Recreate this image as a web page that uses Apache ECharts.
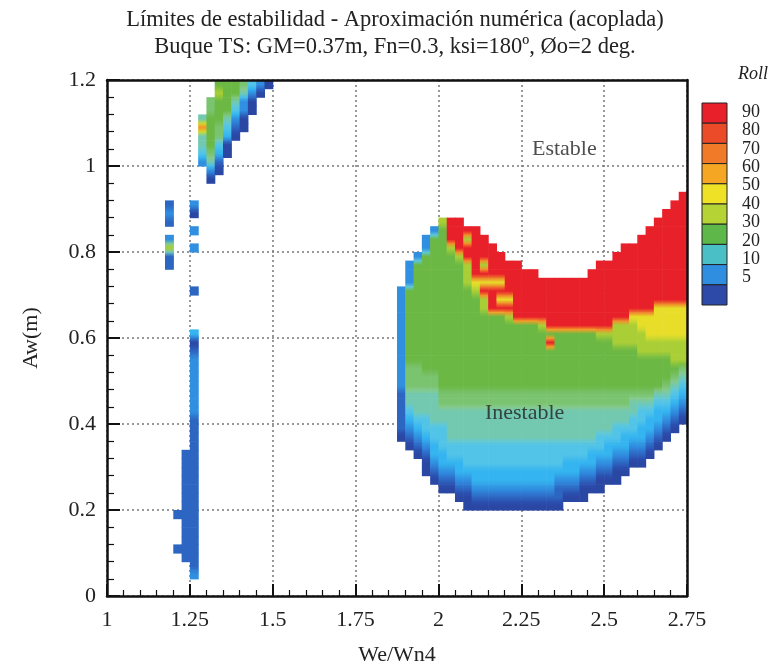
<!DOCTYPE html>
<html>
<head>
<meta charset="utf-8">
<title>Límites de estabilidad</title>
<script src="https://cdn.jsdelivr.net/npm/echarts@6/dist/echarts.min.js"></script>
<style>
  html, body { margin: 0; padding: 0; background: #fff; }
  #chart { width: 770px; height: 667px; }
</style>
</head>
<body>
<div id="chart"></div>
<script>
// cell grid of the roll map: columns in We/Wn4, rows in Aw (top row first)
const weStart = 1
const weStep = 0.025
const awTop = 1.2
const awStep = 0.02

// roll value (deg) of each colour code
const codeRoll = { '1': 3, '2': 7, '3': 11, '4': 15, '5': 19, '6': 23, '7': 27, '8': 30, '9': 38, y: 46, o: 62, r: 90 }

// each row: [first column, codes of consecutive cells]
const rollRows = [
  [[13, '8887531']],
  [[13, '988631']],
  [[12, '788631']],
  [[12, '788531']],
  [[11, '688631']],
  [[11, 'o87521']],
  [[11, '68741']],
  [[11, '6851']],
  [[11, '5741']],
  [[11, '362']],
  [[12, '31']],
  [[12, '1']],
  [],
  [[69, 'r']],
  [[7, '2'], [10, '3'], [68, 'rr']],
  [[7, '3'], [10, '1'], [67, 'rrr']],
  [[7, '2'], [40, '9rr'], [66, 'rrrr']],
  [[10, '3'], [39, '38rrrr'], [65, 'rrrrr']],
  [[7, '3'], [38, '388rr9rr'], [64, 'rrrrrr']],
  [[7, '9'], [10, '3'], [38, '3889rrrrr'], [62, 'rrrrrrrr']],
  [[7, '2'], [37, '388889rrrrr'], [61, 'rrrrrrrrr']],
  [[7, '2'], [36, '38888889r9rrrr'], [59, 'rrrrrrrrrr' + 'r']],
  [[36, '38888889rrrrrrrr'], [58, 'rrrrrrrrrr' + 'rr']],
  [[36, '38888889yyyy'], [48, 'rrrrrrrrrr' + 'rrrrrrrrrr' + 'rr']],
  [[10, '2'], [35, '3888888889'], [45, 'rrrrrrrrrr' + 'rrrrrrrrrr' + 'rrrrr']],
  [[35, '38888888889r'], [47, 'yy'], [49, 'rrrrrrrrrr' + 'rrrrrrrrrr' + 'r']],
  [[35, '38888888889'], [46, 'rrrrrrrrrr' + 'rrrrrrrrrr'], [66, 'yyyy']],
  [[35, '3888888888888' + '9'], [49, 'rrrrrrrrrr' + 'rrrr'], [63, 'yyyyyyy']],
  [[35, '3' + '8888888888' + '888888' + '9'], [53, 'rrrrrrrr'], [61, '999yyyyyy']],
  [[10, '4'], [35, '3' + '8888888888' + '8888888888' + '888'], [59, '999999yyyyy']],
  [[10, '1'], [35, '3' + '8888888888' + '8888888'], [53, 'r'], [54, '8888888' + '999999999']],
  [[10, '2'], [35, '3' + '8888888888' + '8888888888' + '88888888'], [64, '999999']],
  [[10, '3'], [35, '3' + '8888888888' + '8888888888' + '8888888888' + '88'], [68, '99']],
  [[10, '3'], [35, '377'], [38, '8888888888' + '8888888888' + '8888888888' + '8'], [69, '7']],
  [[10, '3'], [35, '37777'], [40, '8888888888' + '8888888888' + '88888888'], [68, '76']],
  [[10, '3'], [35, '37777'], [40, '8888888888' + '8888888888' + '8888888'], [67, '765']],
  [[10, '3'], [35, '26666'], [40, '7777777777' + '7777777777' + '777777'], [66, '6654']],
  [[10, '3'], [35, '26666'], [40, '7777777777' + '7777777777' + '777'], [63, '6665543']],
  [[10, '3'], [35, '25'], [37, '6666666666' + '6666666666' + '6666666'], [64, '554432']],
  [[10, '2'], [35, '2455'], [39, '6666666666' + '6666666666' + '6666'], [63, '5544321']],
  [[10, '2'], [35, '234555'], [41, '6666666666' + '6666666666'], [61, '55544321']],
  [[10, '2'], [35, '123455'], [41, '6666666666' + '66666666'], [59, '555444321']],
  [[10, '2'], [36, '1234'], [40, '5555555555' + '5555555555'], [60, '4443321']],
  [[9, '22'], [37, '1244'], [41, '5555555555' + '5555555'], [58, '44433221']],
  [[9, '22'], [38, '13444'], [43, '5555555555' + '55'], [55, '4444332211']],
  [[9, '22'], [38, '1233'], [42, '4444444444' + '44444'], [57, '332211']],
  [[9, '22'], [39, '12233'], [44, '4444444444'], [54, '33322111']],
  [[9, '22'], [40, '1122'], [44, '3333333333'], [54, '222111']],
  [[9, '22'], [42, '11'], [44, '2222222222' + '2'], [55, '111']],
  [[9, '22'], [43, '1111111111' + '11']],
  [[8, '222']],
  [[9, '22']],
  [[9, '22']],
  [[9, '22']],
  [[8, '222']],
  [[9, '22']],
  [[10, '2']],
  [[10, '3']],
  [],
  []
]

const rollLevels = [90, 80, 70, 60, 50, 40, 30, 20, 10, 5]
const notes = [['Estable', 2.38, 1.04], ['Inestable', 2.26, 0.425]]

const font = '"Liberation Serif", "DejaVu Serif", serif'
// colours at roll 0, 5, 10 ... 90
const rollPalette = ['#2a3a92', '#2b50b0', '#2f86dc', '#34b4f0', '#5ac8e6', '#84ca8c', '#6cb844',
  '#8ec63c', '#bcd432', '#e6e02a', '#f0d226', '#f5b82a', '#f5a028', '#f28a2a', '#ef742b',
  '#ec5e2b', '#ea482b', '#e9302a', '#e8202a']
const bandColors = ['#e8202a', '#ec4b2a', '#f07a28', '#f5a623', '#efe126', '#b5d334', '#5db749',
  '#4bbfc6', '#2f8ee0', '#2d4aa8']

const rollColor = (v) => echarts.color.lerp(Math.min(Math.max(v / 90, 0), 1), rollPalette)

const cells = []
const cellAt = {}
rollRows.forEach((segments, row) => {
  segments.forEach(([col, codes]) => {
    for (let k = 0; k < codes.length; k++) {
      const v = codeRoll[codes[k]]
      cellAt[row + ':' + (col + k)] = v
      cells.push([weStart + weStep * (col + k + 0.5), awTop - awStep * (row + 0.5), v, row, col + k])
    }
  })
})

const barLeft = 702
const barTop = 103
const barWidth = 25
const bandHeight = 20.2

const graphic = []
bandColors.forEach((c, i) => {
  graphic.push({
    type: 'rect',
    shape: { x: barLeft, y: barTop + i * bandHeight, width: barWidth, height: bandHeight },
    style: { fill: c, stroke: '#222', lineWidth: 1 }
  })
})
rollLevels.forEach((level, i) => {
  graphic.push({
    type: 'text',
    x: 742,
    y: 112 + i * 18.4,
    style: { text: String(level), font: '18px ' + font, fill: '#222', verticalAlign: 'middle' }
  })
})
graphic.push({
  type: 'text',
  x: 738,
  y: 74,
  style: { text: 'Roll', font: 'italic 18px ' + font, fill: '#222', verticalAlign: 'middle' }
})

const axisText = { fontFamily: font, fontSize: 22, color: '#222' }
const frameAxis = {
  show: true,
  axisLine: { show: true, onZero: false, lineStyle: { color: '#111', width: 2.5 } },
  axisTick: { show: false },
  axisLabel: { show: false },
  splitLine: { show: false },
  z: 10
}

const myChart = echarts.init(document.getElementById('chart'))
myChart.setOption({
  animation: false,
  backgroundColor: '#fff',
  title: {
    text: 'Límites de estabilidad - Aproximación numérica (acoplada)\nBuque TS: GM=0.37m, Fn=0.3, ksi=180º, Øo=2 deg.',
    left: 390,
    top: 2,
    textAlign: 'center',
    textStyle: { fontFamily: font, fontSize: 22.5, fontWeight: 'normal', lineHeight: 27, color: '#222' }
  },
  grid: { left: 107, top: 80, width: 580, height: 516, outerBoundsMode: 'none', containLabel: false },
  xAxis: [
    {
      type: 'value',
      min: 1,
      max: 2.75,
      interval: 0.25,
      name: 'We/Wn4',
      nameLocation: 'middle',
      nameGap: 48,
      nameTextStyle: axisText,
      axisLine: { onZero: false, lineStyle: { color: '#111', width: 2.5 } },
      axisTick: { inside: true, length: 12, lineStyle: { color: '#111', width: 2 } },
      minorTick: { show: true, splitNumber: 5, length: 6, lineStyle: { color: '#111', width: 1.2 } },
      axisLabel: { ...axisText, margin: 13 },
      splitLine: { show: true, lineStyle: { color: '#777', type: [2, 3], width: 1.5 } }
    },
    { type: 'value', position: 'top', min: 1, max: 2.75, ...frameAxis }
  ],
  yAxis: [
    {
      type: 'value',
      min: 0,
      max: 1.2,
      interval: 0.2,
      name: 'Aw(m)',
      nameLocation: 'middle',
      nameGap: 65,
      nameTextStyle: axisText,
      axisLine: { onZero: false, lineStyle: { color: '#111', width: 2.5 } },
      axisTick: { inside: true, length: 13, lineStyle: { color: '#111', width: 2 } },
      minorTick: { show: true, splitNumber: 5, length: 7, lineStyle: { color: '#111', width: 1.2 } },
      axisLabel: { ...axisText, margin: 11 },
      splitLine: { show: true, lineStyle: { color: '#777', type: [2, 3], width: 1.5 } }
    },
    { type: 'value', position: 'right', min: 0, max: 1.2, ...frameAxis }
  ],
  graphic: graphic,
  series: [
    {
      type: 'custom',
      data: cells,
      clip: true,
      encode: { x: 0, y: 1 },
      renderItem: (params, api) => {
        const v = api.value(2)
        const row = api.value(3)
        const col = api.value(4)
        const above = cellAt[(row - 1) + ':' + col]
        const below = cellAt[(row + 1) + ':' + col]
        const corner = api.coord([api.value(0) - weStep / 2, api.value(1) + awStep / 2])
        const size = api.size([weStep, awStep])
        return {
          type: 'rect',
          shape: { x: corner[0], y: corner[1], width: size[0] + 0.6, height: size[1] + 0.6 },
          style: {
            fill: {
              type: 'linear', x: 0, y: 0, x2: 0, y2: 1,
              colorStops: [
                { offset: 0, color: rollColor(above === undefined ? v : (v + above) / 2) },
                { offset: 0.5, color: rollColor(v) },
                { offset: 1, color: rollColor(below === undefined ? v : (v + below) / 2) }
              ]
            }
          }
        }
      }
    },
    {
      type: 'scatter',
      data: notes.map((n) => ({ name: n[0], value: [n[1], n[2]] })),
      symbolSize: 1,
      itemStyle: { color: 'rgba(0,0,0,0)' },
      label: {
        show: true,
        position: 'inside',
        formatter: '{b}',
        fontFamily: font,
        fontSize: 22,
        color: '#222'
      },
      z: 5
    }
  ]
})
</script>
</body>
</html>
